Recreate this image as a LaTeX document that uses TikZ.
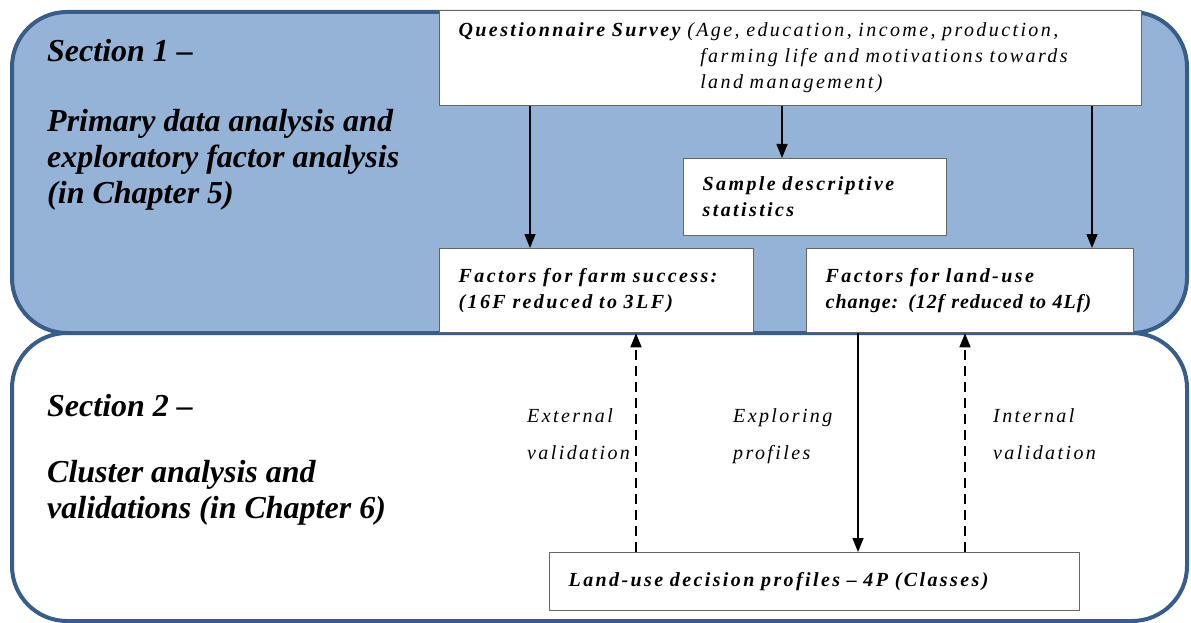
\documentclass[tikz,border=0pt]{standalone}
\usepackage{fontspec}
\setmainfont{Liberation Serif}
\newfontfamily\spacedfont[LetterSpace=12]{Liberation Serif}
\usetikzlibrary{arrows.meta}
\definecolor{secfill}{HTML}{95B3D7}
\definecolor{secline}{HTML}{385D8A}
\begin{document}
\begin{tikzpicture}[x=1pt,y=-1pt,line join=round,>={Triangle[length=14pt,width=11pt]},
    section/.style={draw=secline,line width=4pt,rounded corners=55pt},
    box/.style={draw=black!60,line width=1.3pt,fill=white,anchor=north west,align=left,inner xsep=19pt,
      font=\spacedfont\fontsize{20}{26}\selectfont\bfseries\itshape},
    heading/.style={anchor=north west,inner sep=0pt,align=left,font=\fontsize{32}{36}\selectfont\bfseries\itshape},
    lab/.style={anchor=north west,inner sep=0pt,align=left,font=\spacedfont\fontsize{20}{37}\selectfont\itshape},
    link/.style={->,line width=1.5pt}]
    \useasboundingbox (0,0) rectangle (1191,623);
    \draw[section,fill=secfill] (12,12) rectangle (1187,333);
    \draw[section,fill=white] (12,333) rectangle (1187,621);
    \node[heading] (sec1) at (47,39) {Section 1 --\\[34pt]Primary data analysis and\\exploratory factor analysis\\(in Chapter 5)};
    \node[heading] (sec2) at (47,394) {Section 2 --\\[30pt]Cluster analysis and\\validations (in Chapter 6)};
    \node[box,text width=664pt,minimum height=95pt] (survey) at (439,10) {Questionnaire Survey \parbox[t]{420pt}{\mdseries(Age, education, income, production,\\\hspace*{13pt}farming life and motivations towards\\\hspace*{13pt}land management)}};
    \node[box,text width=225pt,minimum height=77pt] (stats) at (683,158) {Sample descriptive\\statistics};
    \node[box,text width=276pt,minimum height=84pt] (farm) at (439,248) {Factors for farm success:\\(16F reduced to 3LF)};
    \node[box,text width=289pt,minimum height=84pt] (landuse) at (806,248) {Factors for land-use\\{\addfontfeature{LetterSpace=5}change: (12f reduced to 4Lf)}};
    \node[box,text width=492pt,minimum height=58pt] (profiles) at (549,552) {Land-use decision profiles – 4P (Classes)};
    \node[lab] (extlab) at (527,408) {External\\validation};
    \node[lab] (explab) at (733,408) {Exploring\\profiles};
    \node[lab] (intlab) at (993,408) {Internal\\validation};
    % columns of the connectors
    \coordinate (c1) at (530,0);
    \coordinate (c2) at (782,0);
    \coordinate (c3) at (1092,0);
    \coordinate (c4) at (858,0);
    \coordinate (c5) at (636,0);
    \coordinate (c6) at (965,0);
    \draw[link] (survey.south -| c1) -- (farm.north -| c1);
    \draw[link] (survey.south -| c2) -- (stats.north -| c2);
    \draw[link] (survey.south -| c3) -- (landuse.north -| c3);
    \draw[link] (landuse.south -| c4) -- (profiles.north -| c4);
    \draw[link,dash pattern=on 10pt off 6pt] (profiles.north -| c5) -- (farm.south -| c5);
    \draw[link,dash pattern=on 10pt off 6pt] (profiles.north -| c6) -- (landuse.south -| c6);
\end{tikzpicture}
\end{document}
